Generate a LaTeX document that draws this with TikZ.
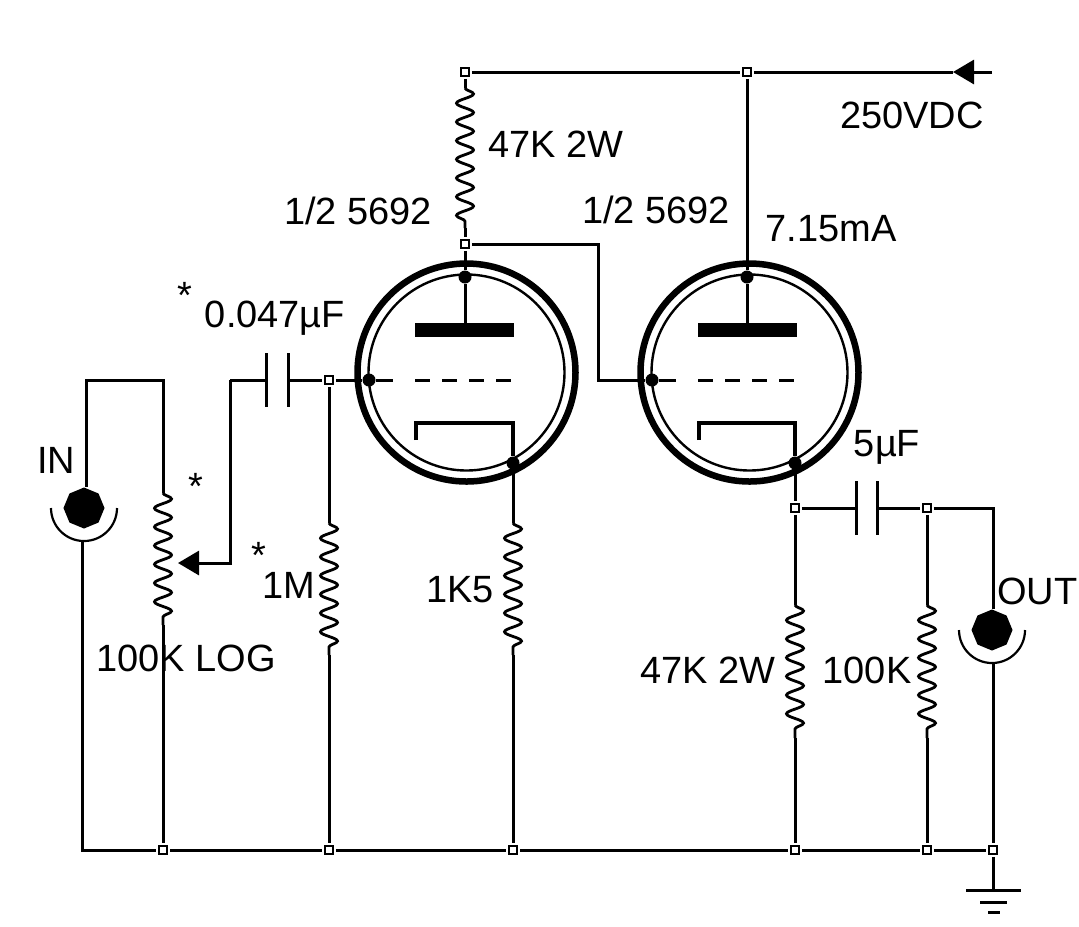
\documentclass[tikz,border=0pt]{standalone}
\usepackage{fontspec}
\setmainfont{Liberation Sans}
\usetikzlibrary{arrows.meta,decorations.pathmorphing,shapes.geometric}
\tikzset{
  wire/.style={line width=0.03cm},
  res/.style={line width=0.028cm,decorate,decoration={snake,segment length=0.187cm,amplitude=0.085cm}},
  jn/.style={draw,rectangle,line width=0.024cm,inner sep=0,minimum size=0.075cm,outer sep=0.03cm},
  dot/.style={circle,fill,inner sep=0,minimum size=0.13cm},
  jack/.style={regular polygon,regular polygon sides=8,shape border rotate=22.5,fill,inner sep=0,minimum size=0.41cm},
  lbl/.style={inner sep=0,font=\fontsize{10.8}{12}\selectfont},
  tip/.style={-{Triangle[length=0.21cm,width=0.24cm]}},
}
\begin{document}
\begin{tikzpicture}[x=0.01cm,y=-0.01cm]
    \useasboundingbox (0,0) rectangle (1079,926);
    % junctions
    \node[jn] (jvl) at (465,72) {};
    \node[jn] (jvr) at (747,72) {};
    \node[jn] (jpl) at (465,244) {};
    \node[jn] (jg) at (329,380) {};
    \node[jn] (jk) at (795,508) {};
    \node[jn] (jo) at (927,508) {};
    \node[jn] (ja) at (163,850) {};
    \node[jn] (jb) at (329,850) {};
    \node[jn] (jc) at (513,850) {};
    \node[jn] (jd) at (795,850) {};
    \node[jn] (je) at (927,850) {};
    \node[jn] (jf) at (993,850) {};
    % tube dots
    \node[dot] (pl) at (465,277) {};
    \node[dot] (gl) at (369,380) {};
    \node[dot] (kl) at (513,463) {};
    \node[dot] (pr) at (747,277) {};
    \node[dot] (gr) at (652,380) {};
    \node[dot] (kr) at (795,463) {};
    % jacks
    \node[jack] (jin) at (84,508) {};
    \node[jack] (jout) at (992,630) {};
    % free ends
    \coordinate (vs) at (992,72);
    \coordinate (vt) at (953,72);
    \coordinate (ra1) at (465,88);
    \coordinate (ra2) at (465,228);
    \coordinate (rp1) at (163,493);
    \coordinate (rp2) at (163,625);
    \coordinate (rg1) at (329,523);
    \coordinate (rg2) at (329,655);
    \coordinate (rk1) at (513,523);
    \coordinate (rk2) at (513,655);
    \coordinate (rl1) at (795,605);
    \coordinate (rl2) at (795,738);
    \coordinate (ro1) at (927,605);
    \coordinate (ro2) at (927,738);
    \coordinate (cl1) at (266,380);
    \coordinate (cl2) at (288,380);
    \coordinate (cr1) at (856,508);
    \coordinate (cr2) at (877,508);
    \coordinate (wp) at (178,563);
    \coordinate (inb) at (82,542);
    \coordinate (outb) at (993,663);

    % resistors
    \draw[res] (ra1) -- (ra2);
    \draw[res] (rp1) -- (rp2);
    \draw[res] (rg1) -- (rg2);
    \draw[res] (rk1) -- (rk2);
    \draw[res] (rl1) -- (rl2);
    \draw[res] (ro1) -- (ro2);

    % capacitors
    \draw[wire] (266,353) -- (266,407);
    \draw[wire] (288,353) -- (288,407);
    \draw[wire] (856,481) -- (856,535);
    \draw[wire] (877,481) -- (877,535);

    % left tube
    \draw[line width=0.065cm] (466.5,372.5) circle (109);
    \draw[line width=0.024cm] (466.5,372.5) circle (98);
    \fill (415,323) rectangle (514,337);
    \draw[line width=0.035cm] (416,440) -- (416,423) -- (513,423) -- (kl);
    \draw[wire] (pl) -- (465,323);
    \draw[wire] (gl) -- (393,380);
    \draw[wire,dash pattern=on 0.15cm off 0.12cm] (415,380) -- (514,380);

    % right tube
    \draw[line width=0.065cm] (749.5,372.5) circle (109);
    \draw[line width=0.024cm] (749.5,372.5) circle (98);
    \fill (698,323) rectangle (797,337);
    \draw[line width=0.035cm] (699,440) -- (699,423) -- (795,423) -- (kr);
    \draw[wire] (pr) -- (747,323);
    \draw[wire] (gr) -- (676,380);
    \draw[wire,dash pattern=on 0.15cm off 0.12cm] (698,380) -- (797,380);

    % supply
    \draw[wire] (jvl) -- (jvr);
    \draw[wire] (jvr) -- (vt);
    \draw[wire,tip] (vs) -- (vt);
    \draw[wire] (jvr) -- (pr);
    \draw[wire] (jvl) -- (ra1);
    \draw[wire] (ra2) -- (jpl);
    \draw[wire] (jpl) -- (pl);
    \draw[wire] (jpl) -| (598,380) -- (gr);

    % input
    \draw[wire] (jin.north -| 86,0) |- (163,380) -- (rp1);
    \draw[wire] (rp2) -- (ja);
    \draw[wire] (inb) |- (ja);
    \draw[wire,tip] (230,380) -- (230,563) -- (wp);
    \draw[wire] (230,380) -- (cl1);
    \draw[wire] (cl2) -- (jg);
    \draw[wire] (jg) -- (gl);
    \draw[wire] (jg) -- (rg1);
    \draw[wire] (rg2) -- (jb);
    \draw[line width=0.022cm] (51,508) arc[start angle=180,end angle=0,radius=33];

    % cathodes and output
    \draw[wire] (kl) -- (rk1);
    \draw[wire] (rk2) -- (jc);
    \draw[wire] (kr) -- (jk);
    \draw[wire] (jk) -- (rl1);
    \draw[wire] (rl2) -- (jd);
    \draw[wire] (jk) -- (cr1);
    \draw[wire] (cr2) -- (jo);
    \draw[wire] (jo) -- (ro1);
    \draw[wire] (ro2) -- (je);
    \draw[wire] (jo) -| (jout.north -| 993,0);
    \draw[wire] (outb) -- (jf);
    \draw[line width=0.022cm] (959,630) arc[start angle=180,end angle=0,radius=33];

    % ground rail
    \draw[wire] (ja) -- (jb);
    \draw[wire] (jb) -- (jc);
    \draw[wire] (jc) -- (jd);
    \draw[wire] (jd) -- (je);
    \draw[wire] (je) -- (jf);
    \draw[wire] (jf) -- (993,890);
    \draw[wire] (966,890) -- (1021,890);
    \draw[wire] (980,902) -- (1007,902);
    \draw[wire] (988,912) -- (1000,912);

    % labels
    \node[lbl,anchor=west] (t1) at (488,144) {47K 2W};
    \node[lbl] (t2) at (912,115) {250VDC};
    \node[lbl] (t3) at (358,211) {1/2 5692};
    \node[lbl] (t4) at (656,210) {1/2 5692};
    \node[lbl] (t5) at (831,229) {7.15mA};
    \node[lbl] (t6) at (185,295) {*};
    \node[lbl] (t7) at (275,318) {0.047µF};
    \node[lbl] (t8) at (56,460) {IN};
    \node[lbl] (t9) at (196,486) {*};
    \node[lbl] (t10) at (259,555) {*};
    \node[lbl] (t11) at (289,585) {1M};
    \node[lbl] (t12) at (186,658) {100K LOG};
    \node[lbl] (t13) at (460,590) {1K5};
    \node[lbl] (t14) at (887,447) {5µF};
    \node[lbl,anchor=east] (t15) at (1078,591) {OUT};
    \node[lbl] (t16) at (708,670) {47K 2W};
    \node[lbl] (t17) at (867,670) {100K};
\end{tikzpicture}
\end{document}
